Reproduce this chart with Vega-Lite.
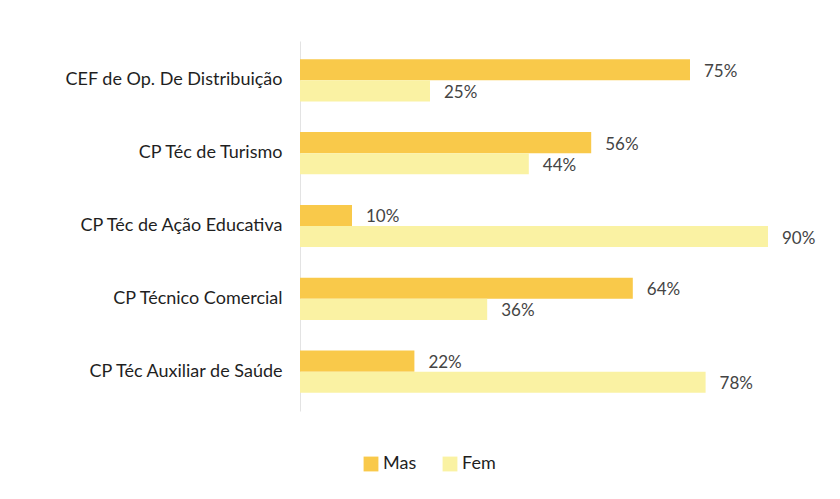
{
  "$schema": "https://vega.github.io/schema/vega-lite/v6.json",
  "width": 520,
  "height": 370,
  "autosize": "none",
  "padding": {"left": 300, "top": 41, "right": 20, "bottom": 88},
  "background": "#ffffff",
  "config": {"view": {"stroke": null}, "font": "Lato"},
  "data": {"values": [
    {"curso": "CEF de Op. De Distribuição", "sexo": "Mas", "v": 0.75},
    {"curso": "CEF de Op. De Distribuição", "sexo": "Fem", "v": 0.25},
    {"curso": "CP Téc de Turismo", "sexo": "Mas", "v": 0.56},
    {"curso": "CP Téc de Turismo", "sexo": "Fem", "v": 0.44},
    {"curso": "CP Téc de Ação Educativa", "sexo": "Mas", "v": 0.10},
    {"curso": "CP Téc de Ação Educativa", "sexo": "Fem", "v": 0.90},
    {"curso": "CP Técnico Comercial", "sexo": "Mas", "v": 0.64},
    {"curso": "CP Técnico Comercial", "sexo": "Fem", "v": 0.36},
    {"curso": "CP Téc Auxiliar de Saúde", "sexo": "Mas", "v": 0.22},
    {"curso": "CP Téc Auxiliar de Saúde", "sexo": "Fem", "v": 0.78}
  ]},
  "encoding": {
    "y": {"field": "curso", "type": "nominal", "sort": null,
      "scale": {"paddingInner": 0.42, "paddingOuter": 0.25},
      "axis": {"title": null, "ticks": false, "labelFontSize": 18, "labelColor": "#1f1f1f", "labelPadding": 18, "domainColor": "#e3e3e3", "labelLimit": 300}},
    "yOffset": {"field": "sexo", "type": "nominal", "sort": ["Mas", "Fem"]},
    "x": {"field": "v", "type": "quantitative", "scale": {"domain": [0, 1]}, "axis": null}
  },
  "layer": [
    {"mark": {"type": "bar"},
     "encoding": {"color": {"field": "sexo", "type": "nominal", "sort": ["Mas", "Fem"],
        "scale": {"domain": ["Mas", "Fem"], "range": ["#F9C94A", "#FAF2A3"]},
        "legend": {"title": null, "orient": "none", "direction": "horizontal", "legendX": 62, "legendY": 414, "symbolType": "square", "symbolSize": 220, "symbolStrokeWidth": 0, "labelFontSize": 18, "labelColor": "#1f1f1f", "columnPadding": 24, "labelOffset": 3}}}},
    {"mark": {"type": "text", "align": "left", "dx": 14, "dy": 2, "fontSize": 17, "color": "#444"},
     "encoding": {"text": {"field": "v", "type": "quantitative", "format": ".0%"}}}
  ]
}
